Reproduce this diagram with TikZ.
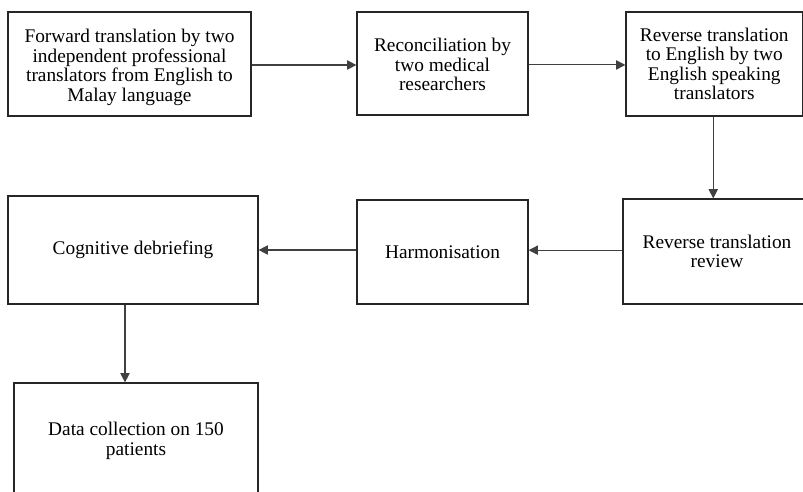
\documentclass[tikz,border=0pt]{standalone}
\usepackage{fontspec}
\setmainfont{Liberation Serif}
\usetikzlibrary{arrows.meta}
\newcommand{\lowertext}[2]{\raisebox{-#1}[\height][\depth]{\begin{tabular}{@{}c@{}}#2\end{tabular}}}
\begin{document}
\begin{tikzpicture}[x=0.75pt,y=-0.75pt,
  stepbox/.style={draw=black!85, line width=0.9pt, align=center, inner sep=0pt,
    font=\fontsize{14.5}{14.6}\selectfont},
  conn/.style={draw=black!75, line width=0.8pt, -{Triangle[length=7pt,width=7pt]}}]
\clip (0,0) rectangle (803,492);
\fill[white] (0,0) rectangle (803,492);
\node[stepbox, minimum width=243*0.75pt, minimum height=104*0.75pt] (A) at (129.5,64)
  {\lowertext{3pt}{Forward translation by two\\independent professional\\translators from English to\\Malay language}};
\node[stepbox, minimum width=171*0.75pt, minimum height=103*0.75pt] (B) at (442.5,63.5)
  {\lowertext{3pt}{Reconciliation by\\two medical\\researchers}};
\node[stepbox, minimum width=176.5*0.75pt, minimum height=104*0.75pt] (C) at (714.25,64)
  {Reverse translation\\to English by two\\English speaking\\translators};
\node[stepbox, minimum width=188*0.75pt, minimum height=105*0.75pt] (F) at (717,251.5)
  {Reverse translation\\review};
\node[stepbox, minimum width=171*0.75pt, minimum height=104*0.75pt] (E) at (442.5,252)
  {Harmonisation};
\node[stepbox, minimum width=250*0.75pt, minimum height=108*0.75pt] (D) at (133,250)
  {Cognitive debriefing};
\node[stepbox, minimum width=244*0.75pt, minimum height=116*0.75pt] (G) at (136,441)
  {Data collection on 150\\patients};
\draw[conn] ([yshift=-0.75pt]A.east) -- ([yshift=-0.75pt]A.east -| B.west);
\draw[conn] ([yshift=-1.1pt]B.east) -- ([yshift=-1.1pt]B.east -| C.west);
\draw[conn] ([xshift=-0.75pt]C.south) -- ([xshift=-0.75pt]C.south |- F.north);
\draw[conn] ([yshift=1pt]F.west) -- ([yshift=1pt]F.west -| E.east);
\draw[conn] ([yshift=1.5pt]E.west) -- ([yshift=1.5pt]E.west -| D.east);
\draw[conn] ([xshift=-6pt]D.south) -- ([xshift=-6pt]D.south |- G.north);
\end{tikzpicture}
\end{document}
